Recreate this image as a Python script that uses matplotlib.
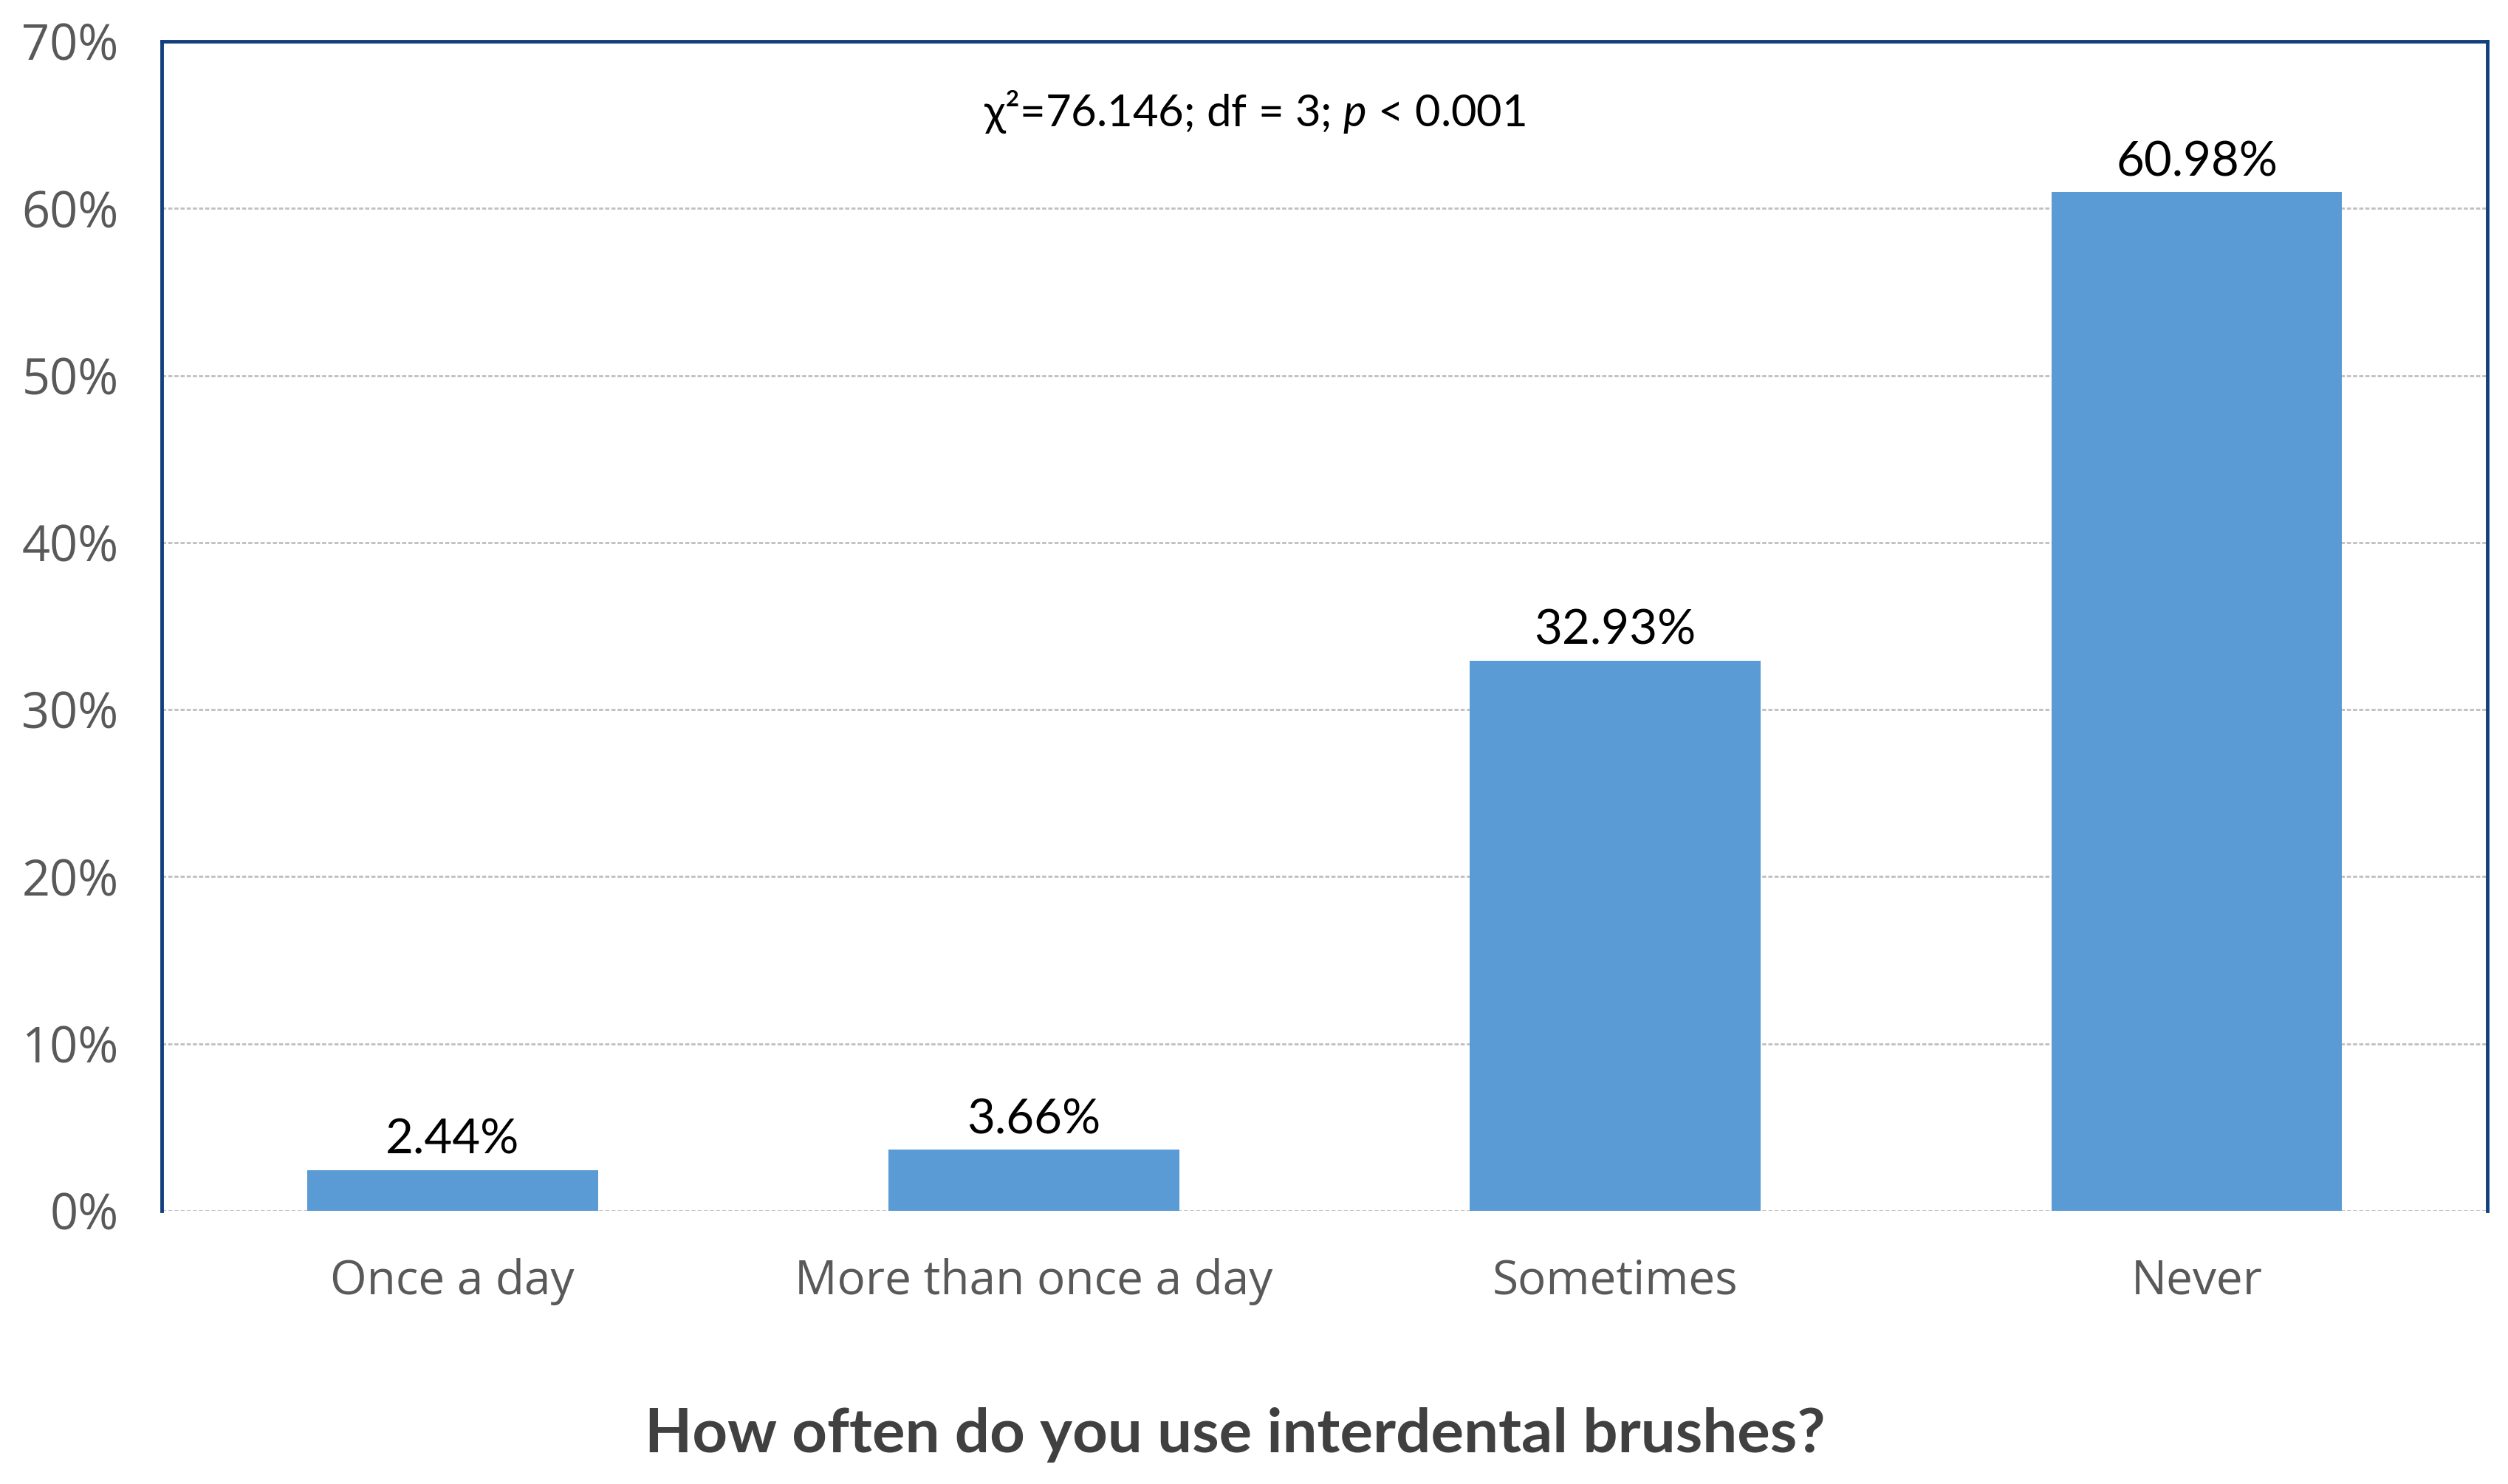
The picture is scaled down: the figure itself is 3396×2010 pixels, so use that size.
import matplotlib
matplotlib.use("Agg")
import matplotlib.pyplot as plt
from matplotlib.ticker import PercentFormatter

categories = ["Once a day", "More than once a day", "Sometimes", "Never"]
values = [2.44, 3.66, 32.93, 60.98]
y_ticks = [0, 10, 20, 30, 40, 50, 60, 70]
stat_text = r"χ²=76.146; df = 3; $p$ < 0.001"
x_title = "How often do you use interdental brushes?"

bar_color = "#5B9BD5"
frame_color = "#123F7E"
grid_color = "#BFBFBF"

plt.rcParams["mathtext.fontset"] = "custom"
plt.rcParams["mathtext.it"] = "Lato:italic"
plt.rcParams["mathtext.rm"] = "Lato"

fig = plt.figure(figsize=(33.96, 20.10), dpi=100)
ax = fig.add_axes([0.0645, 0.1841, 0.9273, 0.788])

xs = range(len(categories))
bars = ax.bar(xs, values, width=0.5, color=bar_color, zorder=3)

ax.set_xlim(-0.5, len(categories) - 0.5)
ax.set_ylim(0, 70)
ax.set_yticks(y_ticks)
ax.yaxis.set_major_formatter(PercentFormatter(decimals=0))
ax.set_xticks(list(xs))
ax.set_xticklabels(categories)

# gridlines (0% line acts as the bottom edge)
for t in y_ticks[:-1]:
    ax.axhline(t, color=grid_color, lw=2, ls=(0, (2, 1)), zorder=1)

for side in ["top", "left", "right"]:
    ax.spines[side].set_color(frame_color)
    ax.spines[side].set_linewidth(3.5)
ax.spines["bottom"].set_visible(False)

ax.tick_params(axis="both", length=0)
ax.tick_params(axis="y", pad=42, labelsize=48, labelcolor="#595959")
ax.tick_params(axis="x", pad=46, labelsize=46, labelcolor="#595959")
for lab in ax.get_xticklabels() + ax.get_yticklabels():
    lab.set_family("Open Sans")

for b, v in zip(bars, values):
    ax.annotate(f"{v:.2f}%", (b.get_x() + b.get_width() / 2, v),
                xytext=(0, 8), textcoords="offset points",
                ha="center", va="bottom", fontsize=47, family="Lato",
                color="black")

ax.text(1.38, 65.8, stat_text, ha="center", va="center", fontsize=43,
        family="Lato", color="black")

fig.text(0.4925, 0.033, x_title, ha="center", va="center", fontsize=60,
         family="Lato", fontweight="bold", color="#404040")

fig.savefig("out.png", dpi=100)
